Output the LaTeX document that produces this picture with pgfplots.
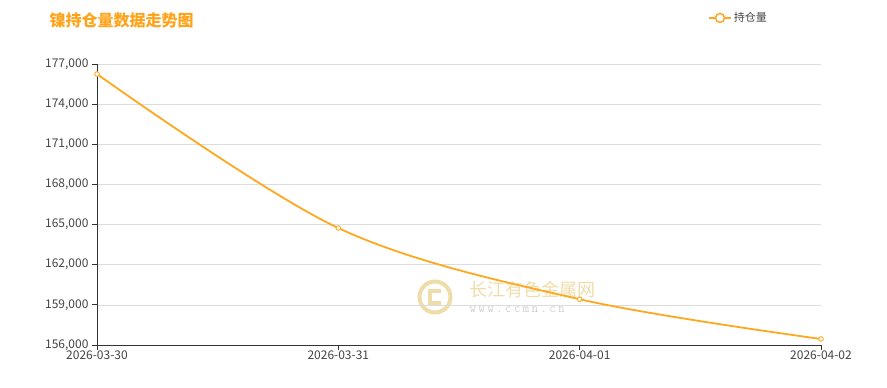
\documentclass[border=0pt]{standalone}
\usepackage{fontspec}
\setmainfont{Noto Sans CJK SC}
\usepackage{pgfplots}
\pgfplotsset{compat=1.18}
\definecolor{lineor}{HTML}{FFA81F}
\definecolor{titleor}{HTML}{FFA31A}
\definecolor{gridc}{HTML}{DCDCDC}
\definecolor{axisc}{HTML}{333333}
\definecolor{labc}{HTML}{444444}
\definecolor{wmark}{HTML}{EEDDA8}
\definecolor{wgray}{HTML}{D0D0D0}
\begin{document}
\begin{tikzpicture}
\useasboundingbox (0pt,0pt) rectangle (887pt,388pt);
\node[anchor=west, text=titleor, font=\fontsize{16}{18}\selectfont\bfseries] at (46pt,368pt) {镍持仓量数据走势图};
% watermark
\draw[wmark, line width=4pt] (435pt,91pt) circle (15.5pt);
\draw[wmark, line width=3.5pt] (441pt,97pt) -- (430pt,97pt) -- (430pt,85pt) -- (441pt,85pt);
\node[anchor=west, text=wmark, font=\fontsize{18}{22}\selectfont] at (466pt,98pt) {长江有色金属网};
\node[anchor=west, text=wgray, font=\fontsize{13}{15}\selectfont\ttfamily] at (466pt,78pt) {w\,w\,w\,.\,c\,c\,m\,n\,.\,c\,n};
\begin{axis}[
  at={(97pt,43pt)}, anchor=south west,
  scale only axis, width=724pt, height=281pt,
  xmin=0, xmax=3, ymin=156000, ymax=177000,
  xtick={0,1,2,3},
  xticklabels={2026-03-30,2026-03-31,2026-04-01,2026-04-02},
  ytick={156000,159000,...,177000},
  axis x line*=bottom, axis y line*=left,
  axis line style={axisc, line width=0.8pt},
  x axis line style={-}, y axis line style={-},
  ymajorgrids, grid style={gridc, line width=0.6pt},
  tick style={axisc, line width=0.8pt},
  tick align=outside, major tick length=5pt,
  ticklabel style={text=labc, font=\fontsize{12}{14}\selectfont},
  /pgf/number format/assume math mode=true,
  scaled y ticks=false,
  yticklabel style={/pgf/number format/.cd, fixed, 1000 sep={,}},
  xticklabel style={yshift=3pt},
  clip=false,
  legend style={at={(0.844,1.164)}, anchor=west, draw=none, fill=none,
    font=\fontsize{11}{13}\selectfont, text=labc, inner sep=0pt},
  legend cell align=left,
]
\addplot[color=lineor, line width=1.8pt, smooth, tension=0.55,
  mark=*, mark size=2.3pt, mark options={fill=white, draw=lineor, line width=0.9pt},
  legend image code/.code={
    \draw[lineor, line width=1.5pt] (0pt,0pt) -- (22pt,0pt);
    \draw[lineor, line width=1.5pt, fill=white] (11pt,0pt) circle (4.5pt);
  }]
coordinates {(0,176250) (1,164740) (2,159420) (3,156450)};
\addlegendentry{持仓量}
\end{axis}
\end{tikzpicture}
\end{document}
